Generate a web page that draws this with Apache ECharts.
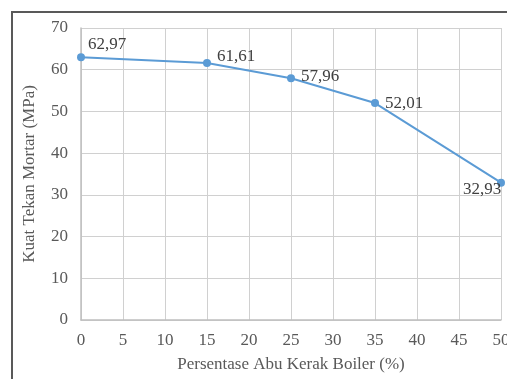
<!DOCTYPE html>
<html>
<head>
<meta charset="utf-8">
<script src="https://cdn.jsdelivr.net/npm/echarts@6/dist/echarts.min.js"></script>
<style>
  html, body { margin: 0; padding: 0; background: #fff; }
  #frame { position: absolute; left: 11px; top: 11px; width: 520px; height: 400px; border: 2px solid #595959; box-sizing: border-box; }
  #chart { position: absolute; left: 0; top: 0; width: 507px; height: 379px; }
</style>
</head>
<body>
<div id="frame"></div>
<div id="chart"></div>
<script>
// Persentase abu kerak boiler (%) vs kuat tekan mortar (MPa)
const persentase = [0, 15, 25, 35, 50];
const kuatTekan = [62.97, 61.61, 57.96, 52.01, 32.93];
const xTitle = 'Persentase Abu Kerak Boiler (%)';
const yTitle = 'Kuat Tekan Mortar (MPa)';

const labelOffsets = [[-2, -13], [1, -6], [1, -2], [1, 0], [-47, 7]];
const fmt = v => v.toFixed(2).replace('.', ',');
const serif = '"Liberation Serif", "DejaVu Serif", serif';

const chart = echarts.init(document.getElementById('chart'), null, { renderer: 'canvas' });
chart.setOption({
  backgroundColor: 'transparent',
  animation: false,
  grid: { left: 81, right: 6, top: 28, bottom: 59, containLabel: false, outerBoundsMode: 'none' },
  xAxis: {
    type: 'value', min: 0, max: 50, interval: 5,
    name: xTitle, nameLocation: 'middle', nameGap: 36,
    nameTextStyle: { fontFamily: serif, fontSize: 17, color: '#595959' },
    axisLine: { show: true, lineStyle: { color: '#bfbfbf', width: 1.5 } },
    axisTick: { show: false },
    axisLabel: { fontFamily: serif, fontSize: 17, color: '#595959', margin: 12 },
    splitLine: { show: true, lineStyle: { color: '#d0d0d0', width: 1 } }
  },
  yAxis: {
    type: 'value', min: 0, max: 70, interval: 10,
    name: yTitle, nameLocation: 'middle', nameGap: 43,
    nameTextStyle: { fontFamily: serif, fontSize: 17, color: '#595959' },
    axisLine: { show: true, lineStyle: { color: '#bfbfbf', width: 1.5 } },
    axisTick: { show: false },
    axisLabel: { fontFamily: serif, fontSize: 17, color: '#595959', margin: 13 },
    splitLine: { show: true, lineStyle: { color: '#d0d0d0', width: 1 } }
  },
  series: [{
    type: 'line',
    data: persentase.map((x, i) => ({
      value: [x, kuatTekan[i]],
      label: { offset: labelOffsets[i] }
    })),
    symbol: 'circle', symbolSize: 8,
    lineStyle: { color: '#5b9bd5', width: 2 },
    itemStyle: { color: '#5b9bd5' },
    label: {
      show: true, position: 'right',
      fontFamily: serif, fontSize: 17, color: '#404040',
      formatter: p => fmt(p.value[1])
    },
    clip: false
  }]
});
</script>
</body>
</html>
